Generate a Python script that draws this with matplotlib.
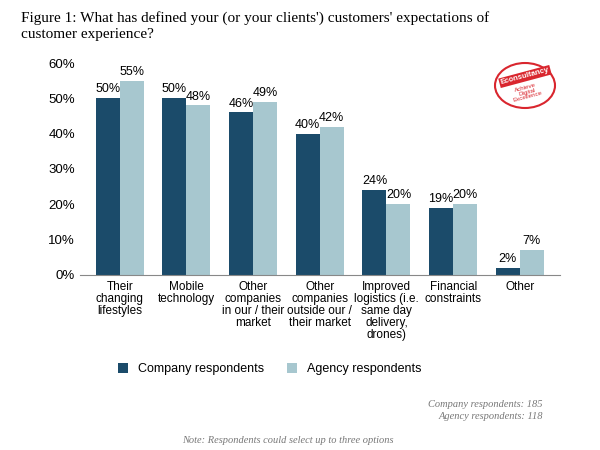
import matplotlib.pyplot as plt
import numpy as np
from matplotlib.patches import Circle

plt.rcParams['font.family'] = ['Liberation Sans', 'DejaVu Sans']

categories = ['Their\nchanging\nlifestyles', 'Mobile\ntechnology', 'Other\ncompanies\nin our / their\nmarket',
              'Other\ncompanies\noutside our /\ntheir market', 'Improved\nlogistics (i.e.\nsame day\ndelivery,\ndrones)',
              'Financial\nconstraints', 'Other']
company = [50, 50, 46, 40, 24, 19, 2]
agency = [55, 48, 49, 42, 20, 20, 7]

dark = '#1b4b6a'
light = '#a7c7cf'

fig = plt.figure(figsize=(6, 4.5), dpi=100)
ax = fig.add_axes([0.133, 0.389, 0.8, 0.471])
x = np.arange(len(categories))
w = 0.36
b1 = ax.bar(x - w/2, company, w, color=dark, label='Company respondents')
b2 = ax.bar(x + w/2, agency, w, color=light, label='Agency respondents')
for bars, vals in ((b1, company), (b2, agency)):
    for r, v in zip(bars, vals):
        ax.text(r.get_x() + r.get_width()/2, v + 0.8, f'{v}%', ha='center', va='bottom', fontsize=9)

ax.set_ylim(0, 60)
ax.set_yticks(range(0, 61, 10))
ax.set_yticklabels([f'{t}%' for t in range(0, 61, 10)], fontsize=9.5)
ax.set_xlim(-0.6, len(categories) - 0.4)
ax.set_xticks(x)
ax.set_xticklabels(categories, fontsize=8.5, va='top', ha='center', linespacing=1.0)
ax.tick_params(axis='x', length=0, pad=4)
ax.tick_params(axis='y', length=0)
for s in ['top', 'right', 'left']:
    ax.spines[s].set_visible(False)
ax.spines['bottom'].set_color('#888888')

fig.legend(handles=[b1, b2], loc='center', bbox_to_anchor=(0.45, 0.18), ncol=2, frameon=False,
           fontsize=9, handlelength=0.8, handleheight=0.8, columnspacing=1.8)

fig.text(0.035, 0.975, "Figure 1: What has defined your (or your clients') customers' expectations of\ncustomer experience?",
         family='Liberation Serif', fontsize=11, va='top', ha='left', linespacing=1.25)

circ = Circle((0.875, 0.81), 0.05, transform=fig.transFigure, fill=False, edgecolor='#d9262e', lw=1.5)
fig.patches.append(circ)
fig.text(0.875, 0.83, 'Econsultancy', color='white', fontsize=5.5, ha='center', va='center', weight='bold',
         bbox=dict(facecolor='#d9262e', edgecolor='none', pad=1), rotation=15)
fig.text(0.878, 0.795, 'Achieve\nDigital\nExcellence', color='#d9262e', fontsize=4.5, ha='center', va='center',
         rotation=15, linespacing=0.9)

fig.text(0.905, 0.088, 'Company respondents: 185\nAgency respondents: 118', family='Liberation Serif', style='italic',
         fontsize=7.5, ha='right', va='center', color='#777777', linespacing=1.4)
fig.text(0.48, 0.022, 'Note: Respondents could select up to three options', family='Liberation Serif', style='italic',
         fontsize=7.5, ha='center', va='center', color='#777777')

fig.savefig('out.png', dpi=100)
